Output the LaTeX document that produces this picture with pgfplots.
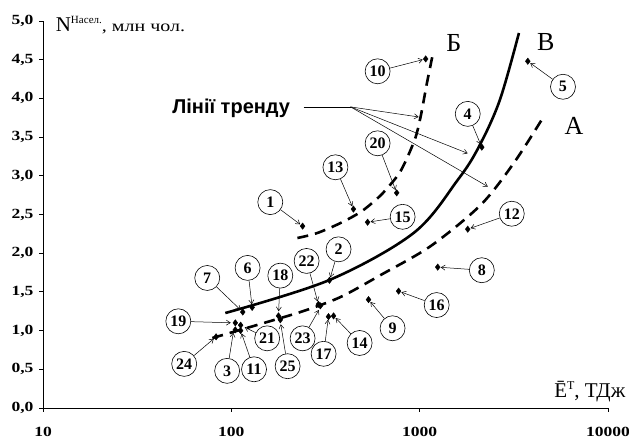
\documentclass[border=0pt]{standalone}
\usepackage{pgfplots}
\pgfplotsset{compat=1.18}
\usepackage{pgfplotstable}
\usepackage{fontspec}
\setmainfont{Liberation Serif}
\newfontfamily\widefont[FakeStretch=1.25]{Liberation Serif}
\newfontfamily\sansfont{Liberation Sans}
\usetikzlibrary{arrows.meta,calc}

% E (TJ) and N (mln people) for the 25 regions
\pgfplotstableread{
n x y
1 239 2.35
2 332 1.65
3 105 1.01
4 2138 3.37
5 3753 4.48
6 129 1.30
7 115 1.24
8 1247 1.82
9 535 1.40
10 1076 4.51
11 112 1.00
12 1800 2.31
13 445 2.57
14 349 1.19
15 529 2.40
16 773 1.51
17 328 1.18
18 178 1.19
19 105 1.10
20 755 2.78
21 112 1.07
22 290 1.34
23 297 1.32
24 83 0.92
25 182 1.14
}\regions

\tikzset{
  circ/.style={circle, draw, fill=white, line width=0.6pt, minimum size=25pt,
    inner sep=0pt, font=\bfseries\fontsize{16}{16}\selectfont},
  arr/.style={-{Straight Barb[length=4pt,width=5pt]}, line width=0.5pt, shorten >=3pt},
}
% circle at (#1,#2), arrow to point (#3,#4), number #5
\newcommand{\lbl}[5]{%
  \node[circ] (c#5) at (axis cs:#1,#2) {#5};
  \draw[arr] (c#5) -- (axis cs:#3,#4);}

\begin{document}
\begin{tikzpicture}
\begin{axis}[
  scale only axis, width=565pt, height=387pt,
  xmode=log, xmin=10, xmax=10000, ymin=0, ymax=5,
  axis x line*=bottom, axis y line*=left,
  axis line style={line width=0.8pt},
  xtick={10,100,1000,10000}, xticklabels={10,100,1000,10000},
  xminorticks=false,
  ytick={0,0.5,1,1.5,2,2.5,3,3.5,4,4.5,5},
  yticklabels={{0,0},{0,5},{1,0},{1,5},{2,0},{2,5},{3,0},{3,5},{4,0},{4,5},{5,0}},
  tick align=outside, major tick length=4pt,
  tick style={line width=0.8pt, black},
  tick label style={font=\widefont\bfseries\fontsize{14}{14}\selectfont},
  xticklabel style={yshift=-12pt},
  yticklabel style={xshift=-2pt},
  clip=false,
]
\coordinate (SW) at (rel axis cs:0,0);
\coordinate (NE) at (rel axis cs:1,1);

% trend lines
\addplot[black, line width=2.6pt, smooth, tension=0.55] coordinates {
  (92.9,1.227) (332.1,1.654) (928.8,2.261) (1592,2.946) (2060,3.372)
  (2665,3.979) (3366,4.845)};
\addplot[black, line width=2.6pt, smooth, tension=0.5, dash pattern=on 11pt off 7pt] coordinates {
  (79.3,0.904) (142.6,1.085) (241.6,1.253) (380.2,1.434) (620.9,1.718)
  (1146,2.093) (2109,2.623) (3162,3.165) (4508,3.747)};
\addplot[black, line width=2.6pt, smooth, tension=0.5, dash pattern=on 11pt off 7pt] coordinates {
  (224.4,2.196) (286.4,2.261) (380.2,2.390) (485.6,2.532) (583.3,2.687)
  (659.4,2.816) (792.6,3.062) (940.1,3.463) (1011,3.760) (1088,4.173)
  (1172,4.561)};

% data points
\addplot[only marks, mark=diamond*, mark size=3.2pt, black] table[x=x, y=y] {\regions};

% labels
\lbl{161}{2.66}{239}{2.35}{1}
\lbl{371}{2.05}{332}{1.65}{2}
\lbl{95}{0.48}{103}{1.01}{3}
\lbl{1800}{3.80}{2138}{3.37}{4}
\lbl{5768}{4.15}{3753}{4.48}{5}
\lbl{122}{1.81}{129}{1.30}{6}
\lbl{74.5}{1.68}{115}{1.24}{7}
\lbl{2138}{1.78}{1247}{1.82}{8}
\lbl{718}{1.03}{535}{1.40}{9}
\lbl{598}{4.35}{1076}{4.51}{10}
\lbl{132}{0.50}{112}{1.00}{11}
\lbl{3084}{2.51}{1800}{2.31}{12}
\lbl{357}{3.11}{445}{2.57}{13}
\lbl{480}{0.84}{349}{1.19}{14}
\lbl{812}{2.47}{529}{2.40}{15}
\lbl{1231}{1.33}{773}{1.51}{16}
\lbl{309}{0.70}{328}{1.18}{17}
\lbl{182}{1.71}{178}{1.21}{18}
\lbl{52.3}{1.12}{103}{1.10}{19}
\lbl{598}{3.42}{755}{2.78}{20}
\lbl{155}{0.90}{114}{1.06}{21}
\lbl{251}{1.90}{290}{1.34}{22}
\lbl{239}{0.90}{297}{1.30}{23}
\lbl{56.2}{0.57}{83}{0.92}{24}
\lbl{199}{0.54}{182}{1.12}{25}

% trend-line callout
\node[anchor=base east, font=\sansfont\bfseries\fontsize{20}{20}\selectfont]
  at (axis cs:214,3.81) {Лінії тренду};
\draw[line width=0.5pt] (axis cs:242,3.89) -- (axis cs:430,3.89);
\draw[-{Straight Barb[length=4pt,width=5pt]}, line width=0.5pt]
  (axis cs:430,3.89) -- (axis cs:988,3.76);
\draw[-{Straight Barb[length=4pt,width=5pt]}, line width=0.5pt]
  (axis cs:430,3.89) -- (axis cs:1800,3.29);
\draw[-{Straight Barb[length=4pt,width=5pt]}, line width=0.5pt]
  (axis cs:430,3.89) -- (axis cs:2301,2.86);

\node[font=\fontsize{26}{26}\selectfont] at (axis cs:1517,4.72) {Б};
\node[font=\fontsize{26}{26}\selectfont] at (axis cs:4677,4.73) {В};
\node[font=\fontsize{26}{26}\selectfont] at (axis cs:6590,3.64) {А};

% axis titles
\node[anchor=base west] at (axis cs:11.2,4.87)
  {{\fontsize{21}{21}\selectfont N}\raisebox{8pt}{\fontsize{11}{11}\selectfont Насел.}{\widefont\fontsize{16}{16}\selectfont, млн чол.}};
\node[anchor=base east, font=\fontsize{21}{21}\selectfont] at (axis cs:12900,0.14)
  {Ē\raisebox{8pt}{\fontsize{12}{12}\selectfont T}, ТДж};
\end{axis}
\pgfresetboundingbox
\useasboundingbox ($(SW)+(-43pt,-31pt)$) rectangle ($(NE)+(21pt,21pt)$);
\end{tikzpicture}
\end{document}
